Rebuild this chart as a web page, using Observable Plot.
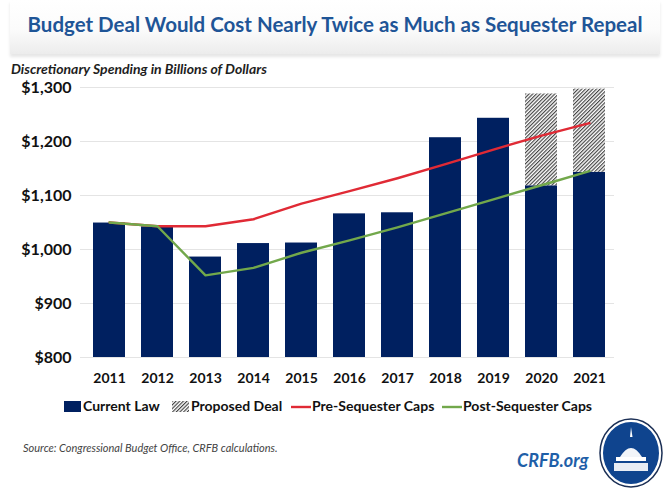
<!DOCTYPE html>
<html>
<head>
<meta charset="utf-8">
<script src="https://cdn.jsdelivr.net/npm/d3@7"></script>
<script src="https://cdn.jsdelivr.net/npm/@observablehq/plot@0.6"></script>
<style>
  html, body { margin: 0; padding: 0; background: #fff; }
  #wrap { position: relative; width: 670px; height: 491px; overflow: hidden; font-family: Lato, "Open Sans", sans-serif; }
  #band { position: absolute; left: 10px; top: 0; width: 650px; height: 54px;
          background: linear-gradient(#ffffff 0%, #fbfbfb 55%, #ececec 100%);
          box-shadow: 0 3px 3px rgba(0,0,0,0.10); }
  #title { position: absolute; left: 0; top: 12px; width: 670px; text-align: center;
           font-size: 20.5px; font-weight: bold; color: #1f5597; }
  #subtitle { position: absolute; left: 11px; top: 60px; font-size: 14px; font-weight: bold; font-style: italic; color: #1e1e1e; }
  #chart { position: absolute; left: 0; top: 78px; }
  #legend { position: absolute; top: 397px; left: 0; width: 670px; height: 18px; font-size: 14px; font-weight: bold; color: #111; }
  #legend span { position: absolute; top: 0; white-space: nowrap; }
  .sw { position: absolute; }
  #source { position: absolute; left: 23px; top: 441px; font-size: 11px; font-style: italic; color: #444; }
  #crfb { position: absolute; left: 517px; top: 449px; font-size: 18px; font-weight: bold; font-style: italic; color: #1f5fa8; }
  #logo { position: absolute; left: 598px; top: 417px; }
</style>
</head>
<body>
<div id="wrap">
  <div id="band"></div>
  <div id="title">Budget Deal Would Cost Nearly Twice as Much as Sequester Repeal</div>
  <div id="subtitle">Discretionary Spending in Billions of Dollars</div>
  <div id="chart"></div>
  <div id="legend"></div>
  <div id="source">Source: Congressional Budget Office, CRFB calculations.</div>
  <div id="crfb">CRFB.org</div>
  <svg id="logo" width="68" height="72" viewBox="0 0 68 72">
    <ellipse cx="33" cy="36" rx="31" ry="34" fill="#fff" stroke="#1b2f55" stroke-width="1.5"/>
    <ellipse cx="33" cy="36" rx="28" ry="31" fill="#0f448e"/>
    <path d="M33 10 L34.5 20 L32 20 Z" fill="#fff"/>
    <path d="M22 40 Q33 22 44 40 Z" fill="#fff" opacity="0.95"/>
    <rect x="18" y="40" width="30" height="4" fill="#fff"/>
    <rect x="16" y="46" width="34" height="8" fill="#fff" opacity="0.9"/>
  </svg>
</div>
<script>
const years = ["2011","2012","2013","2014","2015","2016","2017","2018","2019","2020","2021"];
const currentLaw = [1049, 1042, 986, 1011, 1012, 1066, 1068, 1207, 1243, 1118, 1143];
const proposedDeal = [null, null, null, null, null, null, null, null, null, 1288, 1297];
const preSequester = [1050, 1043, 1043, 1056, 1085, 1108, 1132, 1158, 1185, 1211, 1234];
const postSequester = [1050, 1043, 952, 966, 994, 1017, 1041, 1067, 1093, 1119, 1145];
const yTicks = [800, 900, 1000, 1100, 1200, 1300];
const baseline = 800;

const navy = "#002060";
const red = "#e02a35";
const green = "#72a84b";

const bars = years.map((y, i) => ({year: y, value: currentLaw[i]}));
const deal = years.map((y, i) => ({year: y, low: currentLaw[i], high: proposedDeal[i]})).filter(d => d.high != null);
const pre = years.map((y, i) => ({year: y, value: preSequester[i]}));
const post = years.map((y, i) => ({year: y, value: postSequester[i]}));

const chart = Plot.plot({
  width: 670,
  height: 318,
  marginTop: 9,
  marginBottom: 39,
  marginLeft: 85,
  marginRight: 56,
  style: {fontFamily: "Lato, 'Open Sans', sans-serif", fontSize: "14px", fontWeight: "bold", color: "#111", background: "transparent"},
  x: {domain: years, paddingInner: 0.33, paddingOuter: 0.17, label: null},
  y: {domain: [800, 1300], label: null},
  marks: [
    Plot.ruleY(yTicks, {stroke: "#e4e4e4", strokeWidth: 1, insetLeft: -5}),
    Plot.barY(bars, {x: "year", y1: () => baseline, y2: "value", fill: navy}),
    Plot.barY(deal, {x: "year", y1: "low", y2: "high", fill: "url(#hatch)"}),
    Plot.lineY(pre, {x: "year", y: "value", stroke: red, strokeWidth: 2.4}),
    Plot.lineY(post, {x: "year", y: "value", stroke: green, strokeWidth: 2.4}),
    Plot.axisY({ticks: yTicks, tickSize: 0, tickPadding: 14, tickFormat: d => "$" + d3.format(",")(d), fontSize: 16, fontWeight: "bold"}),
    Plot.axisX({tickSize: 0, tickPadding: 16, fontSize: 14, fontWeight: "bold"})
  ]
});

const ns = "http://www.w3.org/2000/svg";
function addHatch(svg, id) {
  const defs = document.createElementNS(ns, "defs");
  defs.innerHTML = `<pattern id="${id}" patternUnits="userSpaceOnUse" width="2.6" height="2.6" patternTransform="rotate(45)">
    <rect width="2.6" height="2.6" fill="#ffffff"/>
    <line x1="0.6" y1="0" x2="0.6" y2="2.6" stroke="#3a3a3a" stroke-width="1.1"/>
  </pattern>`;
  svg.insertBefore(defs, svg.firstChild);
}
addHatch(chart, "hatch");
document.getElementById("chart").appendChild(chart);

// legend
const legend = document.getElementById("legend");
const items = [
  {label: "Current Law", type: "rect", fill: navy, x: 64},
  {label: "Proposed Deal", type: "rect", fill: "url(#hatchL)", x: 172},
  {label: "Pre-Sequester Caps", type: "line", stroke: red, x: 291},
  {label: "Post-Sequester Caps", type: "line", stroke: green, x: 442}
];
items.forEach(it => {
  const sw = document.createElementNS(ns, "svg");
  sw.setAttribute("class", "sw");
  sw.setAttribute("width", 20);
  sw.setAttribute("height", 18);
  sw.style.left = it.x + "px";
  sw.style.top = "0px";
  if (it.type === "rect") {
    if (it.fill.startsWith("url")) addHatch(sw, "hatchL");
    const r = document.createElementNS(ns, "rect");
    r.setAttribute("x", 0); r.setAttribute("y", 4);
    r.setAttribute("width", 17); r.setAttribute("height", 11);
    r.setAttribute("fill", it.fill);
    sw.appendChild(r);
  } else {
    const l = document.createElementNS(ns, "line");
    l.setAttribute("x1", 0); l.setAttribute("x2", 20);
    l.setAttribute("y1", 10); l.setAttribute("y2", 10);
    l.setAttribute("stroke", it.stroke); l.setAttribute("stroke-width", 2.4);
    sw.appendChild(l);
  }
  legend.appendChild(sw);
  const t = document.createElement("span");
  t.textContent = it.label;
  t.style.left = (it.x + (it.type === "rect" ? 19 : 21)) + "px";
  legend.appendChild(t);
});
</script>
</body>
</html>
